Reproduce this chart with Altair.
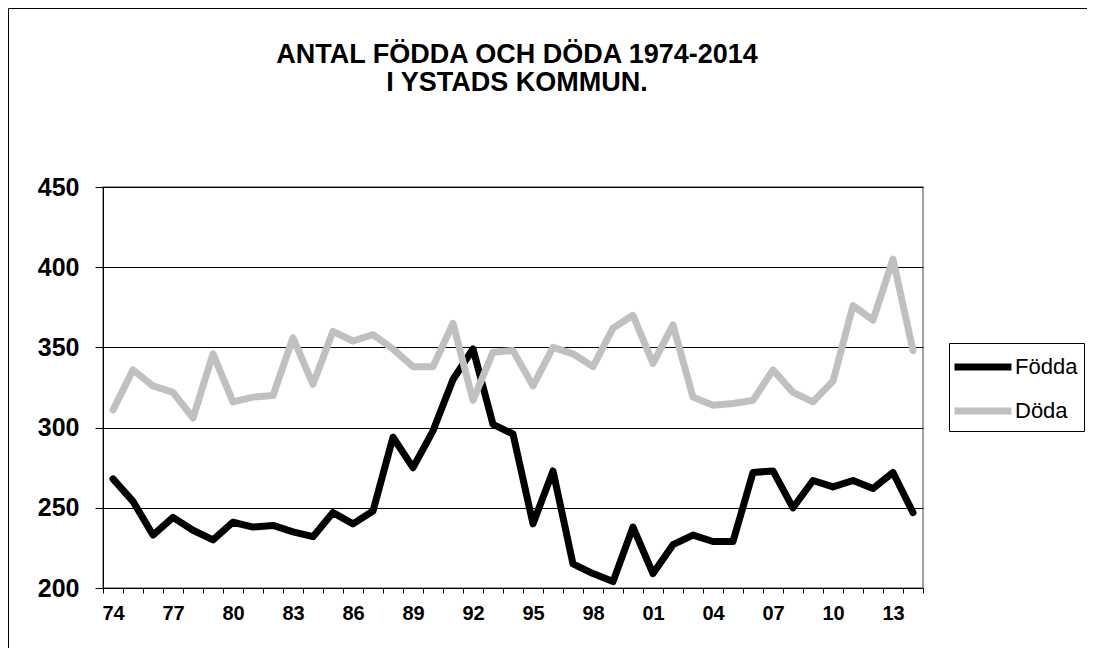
import altair as alt
import pandas as pd

years = list(range(1974, 2015))
fodda = [268, 254, 233, 244, 236, 230, 241, 238, 239, 235, 232, 247, 240, 248,
         294, 275, 298, 330, 349, 302, 296, 240, 273, 215, 209, 204, 238, 209,
         227, 233, 229, 229, 272, 273, 250, 267, 263, 267, 262, 272, 247]
doda = [311, 336, 326, 322, 306, 346, 316, 319, 320, 356, 327, 360, 354, 358,
        349, 338, 338, 365, 317, 347, 348, 326, 350, 346, 338, 362, 370, 340,
        364, 319, 314, 315, 317, 336, 322, 316, 329, 376, 367, 405, 348]
series_names = ["Födda", "Döda"]
series_colors = ["#000000", "#C0C0C0"]
y_ticks = [200, 250, 300, 350, 400, 450]
title_lines = ["ANTAL FÖDDA OCH DÖDA 1974-2014", "I YSTADS KOMMUN."]

df = pd.DataFrame({
    "year": years * 2,
    "serie": ["Födda"] * len(years) + ["Döda"] * len(years),
    "value": fodda + doda,
})

FONT = "Liberation Sans"
x_tick_vals = [y - 0.5 for y in years] + [years[-1] + 0.5]

x_enc = alt.X(
    "year:Q",
    scale=alt.Scale(domain=[years[0] - 0.5, years[-1] + 0.5], nice=False, zero=False),
    axis=alt.Axis(
        values=x_tick_vals,
        labelExpr="((datum.value + 0.5 - 1974) % 3 == 0 && datum.value < 2014) ? substring(toString(datum.value + 0.5), 2, 4) : ''",
        labelOffset=10,
        labelOverlap=False,
        labelFlush=False,
        grid=False,
        tickSize=5,
        tickColor="#000000",
        domainColor="#000000",
        labelFont=FONT,
        labelFontSize=20,
        labelFontWeight="bold",
        labelColor="#000000",
        labelPadding=10,
        title=None,
    ),
)
y_enc = alt.Y(
    "value:Q",
    scale=alt.Scale(domain=[200, 450], nice=False, zero=False),
    axis=alt.Axis(
        values=y_ticks,
        grid=True,
        gridColor="#000000",
        gridWidth=1,
        tickSize=8,
        tickColor="#000000",
        domainColor="#000000",
        labelFont=FONT,
        labelFontSize=25,
        labelFontWeight="bold",
        labelColor="#000000",
        labelPadding=16,
        title=None,
    ),
)
color_enc = alt.Color(
    "serie:N",
    scale=alt.Scale(domain=series_names, range=series_colors),
    legend=alt.Legend(
        title=None,
        orient="none",
        legendX=846,
        legendY=156,
        symbolType="M-1.3,0H2.7",
        symbolSize=812,
        symbolStrokeWidth=7,
        labelFont=FONT,
        labelFontSize=22,
        labelColor="#000000",
        labelOffset=24,
        rowPadding=12,
        padding=6,
        strokeColor="#000000",
    ),
)

base = alt.Chart(df).mark_line(strokeWidth=7, strokeJoin="round", strokeCap="round").encode(
    x=x_enc, y=y_enc, color=color_enc
)
line_f = base.transform_filter(alt.datum.serie == "Födda")
line_d = base.transform_filter(alt.datum.serie == "Döda")

frame_df = pd.DataFrame({"k": [0]})
frame_left = alt.Chart(frame_df).mark_rule(color="#000000", strokeWidth=1).encode(
    x=alt.value(-94.5), y=alt.value(-178.5), y2=alt.value(480)
)
frame_top = alt.Chart(frame_df).mark_rule(color="#000000", strokeWidth=1).encode(
    x=alt.value(-94.5), x2=alt.value(1000), y=alt.value(-178.5)
)

chart = alt.layer(line_f, line_d, frame_left, frame_top).properties(
    width=820,
    height=401,
    padding={"left": 95, "top": 179, "right": 164, "bottom": 60},
    autosize=alt.AutoSizeParams(type="none"),
    title=alt.TitleParams(
        text=title_lines,
        font=FONT,
        fontSize=27,
        fontWeight="bold",
        color="#000000",
        lineHeight=28,
        anchor="middle",
        frame="group",
        offset=-89,
        dx=4,
    ),
).configure_view(stroke="#808080", strokeWidth=1.5)

chart.save("out.html", embed_options={"renderer": "svg", "actions": False})
